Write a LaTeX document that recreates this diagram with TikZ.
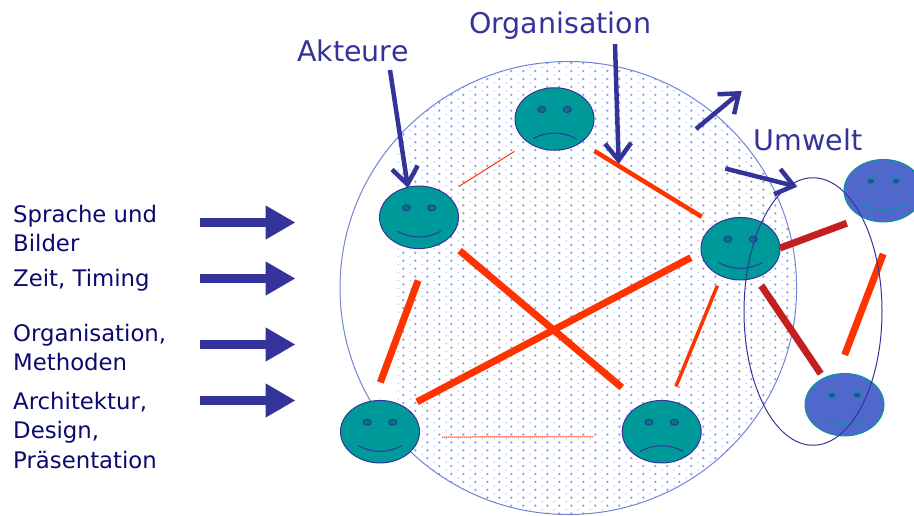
\documentclass[tikz,border=0pt]{standalone}
\usepackage{fontspec}
\setmainfont{DejaVu Sans}
\usetikzlibrary{arrows.meta,shapes.geometric}
\definecolor{facegreen}{HTML}{009999}
\definecolor{faceblue}{HTML}{5068CC}
\definecolor{linkred}{HTML}{FF3300}
\definecolor{darkred}{HTML}{C41E1E}
\definecolor{arrowblue}{HTML}{333399}
\definecolor{circleblue}{HTML}{6F84D6}
\definecolor{dotblue}{HTML}{8C9FEA}
\definecolor{textnavy}{HTML}{0A0A6E}
\tikzset{
    face/.style={ellipse, draw=arrowblue, fill=facegreen, line width=1pt, minimum width=79pt, minimum height=62.5pt, inner sep=0pt, outer sep=0pt},
    bluemood/.style={face, draw=facegreen, fill=faceblue},
    redlink/.style={draw=linkred},
    brownlink/.style={draw=darkred, line width=7pt},
    pointer/.style={draw=arrowblue, line width=4.5pt, -{Straight Barb[length=17pt,width=26pt]}},
    fatarrow/.style={draw=arrowblue, line width=8.5pt, -{Triangle[length=30pt,width=32pt]}},
    sidetext/.style={anchor=north west, align=left, inner sep=0pt, text=textnavy, font=\fontsize{22.8}{29.3}\selectfont},
    headline/.style={anchor=base west, inner sep=0pt, text=arrowblue, font=\fontsize{28.5}{33}\selectfont}
}
\begin{document}
\begin{tikzpicture}[x=1pt,y=-1pt]
    \useasboundingbox (0,0) rectangle (914,515);
    % dotted disc
    \begin{scope}
        \clip (568.3,288) ellipse [x radius=228.3, y radius=226.5];
        \foreach \i in {-7,...,26}
            \foreach \j in {-15,...,42} {
                \fill[dotblue] (487.3+12*\i,181.7+7.9*\j) circle (1.3);
                \fill[dotblue!70] (482.3+12*\i,185.7+7.9*\j) circle (0.8);
            }
    \end{scope}
    \node[ellipse, draw=circleblue, line width=1pt, minimum width=456.6pt, minimum height=453pt, inner sep=0pt] (orgcircle) at (568.3,288) {};
    % faces
    \node[face] (topface) at (554.5,119) {};
    \node[face] (leftface) at (419,217.3) {};
    \node[face] (rightface) at (740.5,248.7) {};
    \node[face] (lowleft) at (380,431.7) {};
    \node[face] (lowright) at (661.7,431.7) {};
    \node[bluemood] (blueupper) at (883.5,190.7) {};
    \node[bluemood] (bluelower) at (844.5,404.7) {};
    \foreach \name/\my/\cy in {topface/19.7/12.1, lowright/19.7/12.1, leftface/14/21.6, rightface/14/21.6, lowleft/14/21.6} {
        \begin{scope}[shift={(\name)}]
            \draw[arrowblue, line width=1pt, fill=facegreen!80!black] (-12.7,-9.5) ellipse [x radius=4, y radius=3];
            \draw[arrowblue, line width=1pt, fill=facegreen!80!black] (12.7,-9.5) ellipse [x radius=4, y radius=3];
            \draw[arrowblue, line width=1pt] (-21.7,\my) .. controls (-7.2,\cy) and (7.2,\cy) .. (21.7,\my);
        \end{scope}
    }
    \foreach \name in {blueupper,bluelower} {
        \begin{scope}[shift={(\name)}]
            \draw[facegreen, line width=1pt, fill=arrowblue!70!faceblue] (-12.7,-9.5) ellipse [x radius=4, y radius=3];
            \draw[facegreen, line width=1pt, fill=arrowblue!70!faceblue] (12.7,-9.5) ellipse [x radius=4, y radius=3];
            \draw[facegreen, line width=1pt] (-21.7,14) .. controls (-7.2,21.6) and (7.2,21.6) .. (21.7,14);
        \end{scope}
    }
    % links
    \draw[redlink, line width=1pt, shorten <=15pt, shorten >=16.6pt] (leftface.40.4) -- (topface.222.6);
    \draw[redlink, line width=4.5pt, shorten <=16.3pt, shorten >=15.5pt] (topface.318) -- (rightface.137);
    \draw[redlink, line width=7pt, shorten <=17pt, shorten >=26.5pt] (leftface.321.8) -- (lowright.126.4);
    \draw[redlink, line width=7pt, shorten <=35.5pt, shorten >=19.7pt] (leftface.291) -- (lowleft.102.7);
    \draw[redlink, line width=7pt, shorten <=13pt, shorten >=11.7pt] (lowleft.43.3) -- (rightface.185.2);
    \draw[redlink, line width=3.5pt, shorten <=10.5pt, shorten >=15.8pt] (rightface.235.2) -- (lowright.75.1);
    \draw[redlink, line width=1.5pt, dash pattern=on 1pt off 1pt, shorten <=23.5pt, shorten >=28.5pt] (lowleft.352.8) -- (lowright.187.2);
    \draw[redlink, line width=7pt, shorten <=36pt, shorten >=20.4pt] (blueupper.293.7) -- (bluelower.103.5);
    \draw[brownlink, shorten >=17pt] (rightface.1) -- (blueupper.232.7);
    \draw[brownlink, shorten <=9.8pt, shorten >=5.4pt] (rightface.298.9) -- (bluelower.128);
    % environment
    \node[ellipse, draw=arrowblue, line width=1pt, minimum width=138pt, minimum height=267.5pt, inner sep=0pt] (umweltring) at (813,311.5) {};
    % labels
    \node[headline] (akteure) at (297,61) {Akteure};
    \node[headline] (organisation) at (469,33.3) {Organisation};
    \node[headline] (umwelt) at (753.5,150) {Umwelt};
    \node[sidetext] (sprache) at (13,205) {Sprache und\\Bilder};
    \node[sidetext] (zeit) at (13,269) {Zeit, Timing};
    \node[sidetext] (methoden) at (13,324) {Organisation,\\Methoden};
    \node[sidetext] (design) at (13,392) {Architektur,\\Design,\\Präsentation};
    % pointers
    \coordinate (akteurestart) at (390,70);
    \coordinate (akteuretip) at (408,188);
    \coordinate (orgstart) at (615,44);
    \coordinate (orgtip) at (618.7,164);
    \coordinate (outstart) at (696,129);
    \coordinate (outtip) at (741.7,91);
    \coordinate (ringstart) at (725.3,168.5);
    \coordinate (ringtip) at (797.3,186.7);
    \draw[pointer] (akteurestart) -- (akteuretip);
    \draw[pointer] (orgstart) -- (orgtip);
    \draw[pointer] (outstart) -- (outtip);
    \draw[pointer] (ringstart) -- (ringtip);
    \foreach \row/\ypos in {a/222.5,b/278.5,c/344.5,d/400.5} {
        \coordinate (fat\row start) at (200,\ypos);
        \coordinate (fat\row tip) at (295.5,\ypos);
        \draw[fatarrow] (fat\row start) -- (fat\row tip);
    }
\end{tikzpicture}
\end{document}
